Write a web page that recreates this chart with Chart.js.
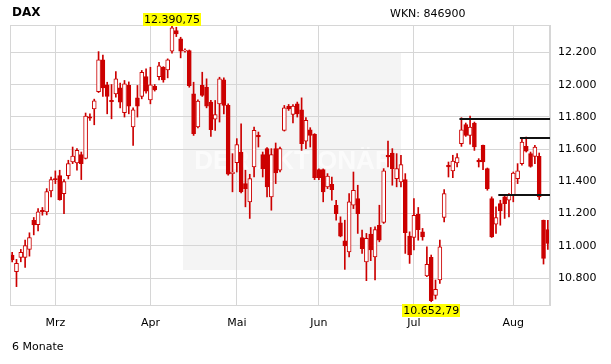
<!DOCTYPE html>
<html lang="de">
<head>
<meta charset="UTF-8">
<title>DAX - 6 Monate</title>
<script src="https://cdn.jsdelivr.net/npm/chart.js"></script>
<style>
    body { margin: 0; background: #fff; }
    #wrap { width: 611px; height: 364px; }
</style>
</head>
<body>
<div id="wrap"><canvas id="daxChart" width="611" height="364"></canvas></div>
<script>
// trading days, 16.02. - 13.08.
const dates = [
    '16.02.','17.02.','18.02.','19.02.','20.02.','23.02.','24.02.','25.02.','26.02.','27.02.',
    '02.03.','03.03.','04.03.','05.03.','06.03.','09.03.','10.03.','11.03.','12.03.','13.03.','16.03.',
    '17.03.','18.03.','19.03.','20.03.','23.03.','24.03.','25.03.','26.03.','27.03.','30.03.','31.03.',
    '01.04.','02.04.','07.04.','08.04.','09.04.','10.04.','13.04.','14.04.','15.04.','16.04.','17.04.',
    '20.04.','21.04.','22.04.','23.04.','24.04.','27.04.','28.04.','29.04.','30.04.',
    '04.05.','05.05.','06.05.','07.05.','08.05.','11.05.','12.05.','13.05.','14.05.','15.05.',
    '18.05.','19.05.','20.05.','21.05.','22.05.','26.05.','27.05.','28.05.','29.05.',
    '01.06.','02.06.','03.06.','04.06.','05.06.','08.06.','09.06.','10.06.','11.06.','12.06.','15.06.',
    '16.06.','17.06.','18.06.','19.06.','22.06.','23.06.','24.06.','25.06.','26.06.','29.06.','30.06.',
    '01.07.','02.07.','03.07.','06.07.','07.07.','08.07.','09.07.','10.07.','13.07.','14.07.','15.07.',
    '16.07.','17.07.','20.07.','21.07.','22.07.','23.07.','24.07.','27.07.','28.07.','29.07.','30.07.','31.07.',
    '03.08.','04.08.','05.08.','06.08.','07.08.','10.08.','11.08.','12.08.','13.08.'
];

const openVals = [
    10943,10839,10928,10928,10978,11159,11132,11221,11211,11341,
    11417,11436,11324,11436,11520,11514,11566,11543,11801,11850,11956,
    12154,11999,11902,11943,11980,11826,11995,11737,11918,11927,12050,
    11906,11989,12050,12108,12092,12207,12335,12284,12207,12211,11943,
    11737,11995,11984,11892,11786,11881,12030,11871,11448,
    11516,11582,11386,11273,11489,11685,11566,11603,11304,11603,
    11469,11716,11865,11815,11881,11844,11650,11720,11691,
    11473,11473,11366,11382,11252,11143,11031,10963,11252,11293,11052,
    10901,11073,10932,11128,11145,11562,11576,11417,11396,11411,11060,
    11052,11196,11087,10813,10928,10693,10788,11176,11500,11465,11514,
    11634,11753,11685,11762,11531,11623,11479,11293,11134,11262,11304,11283,
    11314,11417,11510,11617,11572,11555,11555,11159,11101
];
const highVals = [
    10959,10916,10978,11035,11081,11176,11231,11238,11355,11427,
    11465,11469,11411,11531,11613,11603,11582,11824,11819,11910,12205,
    12184,12015,12001,12081,12009,12026,12017,11856,11995,12088,12098,
    12108,12001,12139,12112,12160,12366,12356,12294,12222,12215,12015,
    11906,12077,12036,11902,11902,12046,12042,11881,11572,
    11665,11757,11469,11444,11737,11706,11582,11610,11603,11638,
    11613,11871,11877,11877,11892,11918,11795,11733,11696,
    11477,11477,11448,11427,11283,11180,11159,11324,11458,11376,11097,
    11077,11114,11118,11252,11479,11650,11603,11572,11562,11448,11087,
    11293,11238,11108,10994,10943,10788,11035,11349,11520,11562,11572,
    11795,11762,11805,11768,11541,11625,11483,11304,11242,11283,11314,11324,
    11458,11510,11665,11675,11582,11623,11576,11160,11159
];
const lowVals = [
    10901,10747,10901,10866,10936,11068,11093,11190,11192,11304,
    11386,11283,11200,11415,11510,11469,11411,11539,11778,11751,11951,
    11927,11819,11788,11922,11856,11799,11819,11623,11799,11912,11947,
    11881,11960,12030,12015,12042,12195,12298,12166,12201,11984,11685,
    11731,11927,11856,11679,11716,11768,11819,11438,11335,
    11458,11328,11242,11170,11427,11613,11427,11304,11221,11386,
    11458,11712,11840,11762,11799,11592,11603,11613,11411,
    11411,11273,11355,11283,11159,11056,10854,10932,11231,11077,10953,
    10784,10908,10788,11025,11139,11489,11376,11366,11366,10953,10891,
    10974,11035,11035,10809,10653,10670,10767,11149,11427,11423,11489,
    11617,11679,11630,11592,11489,11473,11345,11052,11077,11128,11170,11180,
    11273,11386,11500,11582,11488,11510,11287,10887,10978
];
const closeVals = [
    10912,10891,10959,11002,11052,11130,11211,11211,11337,11411,
    11411,11287,11398,11510,11557,11592,11510,11805,11792,11900,12154,
    11980,11927,11894,12036,11892,12005,11867,11844,11867,12077,11960,
    11999,11968,12116,12030,12154,12352,12314,12207,12215,11993,11696,
    11898,11933,11867,11720,11815,12036,11871,11444,11458,
    11628,11335,11355,11417,11716,11675,11479,11366,11566,11452,
    11603,11856,11850,11867,11819,11634,11778,11685,11423,
    11423,11335,11432,11349,11200,11060,11000,11273,11345,11200,10982,
    11046,10974,11101,11035,11465,11551,11479,11479,11504,11081,10943,
    11190,11101,11056,10885,10660,10730,10994,11324,11489,11526,11547,
    11720,11685,11737,11613,11520,11520,11355,11056,11176,11217,11262,11314,
    11452,11465,11644,11588,11493,11613,11304,10922,11015
];

const yTicks = [10800, 11000, 11200, 11400, 11600, 11800, 12000, 12200];
const monthNames = { '02': 'Feb', '03': 'Mrz', '04': 'Apr', '05': 'Mai', '06': 'Jun', '07': 'Jul', '08': 'Aug' };

// hand drawn support / resistance lines: start candle index and level
const lineStarts = [104, 118, 113];
const lineLevels = [11788, 11671, 11314];

const highIndex = 37, highLabel = '12.390,75';
const lowIndex = 97, lowLabel = '10.652,79';

const red = '#cc0000';
const gridGrey = '#d6d6d6';
const font = '"DejaVu Sans", Verdana, sans-serif';

function fmt(v) {
    return String(v).replace(/\B(?=(\d{3})+(?!\d))/g, '.');
}
function isMonthStart(i) {
    return i > 0 && dates[i].slice(3, 5) !== dates[i - 1].slice(3, 5);
}

const bodyData = dates.map((d, i) => [openVals[i], closeVals[i]]);
const wickData = dates.map((d, i) => [lowVals[i], highVals[i]]);
const bodyFill = dates.map((d, i) => closeVals[i] < openVals[i] ? red : '#ffffff');

const decorPlugin = {
    id: 'decor',
    beforeDraw(chart) {
        const ctx = chart.ctx;
        ctx.save();
        ctx.fillStyle = '#fff';
        ctx.fillRect(0, 0, chart.width, chart.height);
        // watermark
        ctx.fillStyle = '#f4f4f4';
        ctx.fillRect(183, 53, 218, 217);
        ctx.fillStyle = '#fbfbfb';
        ctx.font = 'bold 26px "Liberation Sans", Arial, sans-serif';
        ctx.textAlign = 'center';
        ctx.textBaseline = 'middle';
        ctx.fillText('DER AKTIONÄR', 294, 162);
        ctx.restore();
    },
    afterDatasetsDraw(chart) {
        const ctx = chart.ctx;
        const a = chart.chartArea;
        const x = chart.scales.x, y = chart.scales.y;
        ctx.save();
        // frame
        ctx.strokeStyle = gridGrey;
        ctx.lineWidth = 1;
        ctx.strokeRect(a.left + 0.5, a.top + 0.5, a.right - a.left - 1, a.bottom - a.top);
        // black lines
        ctx.strokeStyle = '#111';
        ctx.lineWidth = 2;
        lineStarts.forEach((s, i) => {
            const py = Math.round(y.getPixelForValue(lineLevels[i]));
            ctx.beginPath();
            ctx.moveTo(x.getPixelForValue(s) - 2, py);
            ctx.lineTo(a.right, py);
            ctx.stroke();
        });
        // yellow high / low labels
        ctx.font = '11px ' + font;
        ctx.textAlign = 'center';
        ctx.textBaseline = 'middle';
        [[highIndex, highLabel, 13], [lowIndex, lowLabel, 304]].forEach(([idx, txt, top]) => {
            const cx = x.getPixelForValue(idx);
            const w = ctx.measureText(txt).width + 2;
            ctx.fillStyle = '#ffff00';
            ctx.fillRect(Math.round(cx - w / 2), top, Math.round(w), 13);
            ctx.fillStyle = '#000';
            ctx.fillText(txt, cx, top + 7);
        });
        ctx.restore();
    },
    afterDraw(chart) {
        const ctx = chart.ctx;
        ctx.save();
        ctx.fillStyle = '#000';
        ctx.textBaseline = 'middle';
        ctx.textAlign = 'left';
        ctx.font = 'bold 12px ' + font;
        ctx.fillText('DAX', 12, 13);
        ctx.font = '11px ' + font;
        ctx.fillText('WKN: 846900', 390, 14);
        ctx.fillText('6 Monate', 12, 347);
        ctx.restore();
    }
};

new Chart(document.getElementById('daxChart'), {
    type: 'bar',
    data: {
        labels: dates,
        datasets: [
            {
                data: bodyData,
                backgroundColor: bodyFill,
                borderColor: red,
                borderWidth: 1,
                borderSkipped: false,
                barThickness: 4,
                grouped: false
            },
            {
                data: wickData,
                backgroundColor: red,
                borderWidth: 0,
                barThickness: 1,
                grouped: false
            }
        ]
    },
    options: {
        responsive: false,
        animation: false,
        events: [],
        layout: { padding: { left: 10, top: 25, right: 0, bottom: 0 } },
        plugins: {
            legend: { display: false },
            tooltip: { enabled: false }
        },
        scales: {
            x: {
                type: 'category',
                offset: true,
                afterFit: s => { s.height = 59; },
                grid: {
                    offset: false,
                    drawTicks: false,
                    color: c => isMonthStart(c.index) ? gridGrey : 'rgba(0,0,0,0)'
                },
                border: { color: gridGrey },
                ticks: {
                    autoSkip: false,
                    maxRotation: 0,
                    padding: 12,
                    color: '#000',
                    font: { family: font, size: 11 },
                    callback: function (v, i) {
                        return isMonthStart(i) ? monthNames[dates[i].slice(3, 5)] : '';
                    }
                }
            },
            y: {
                position: 'right',
                min: 10633,
                max: 12370,
                afterFit: s => { s.width = 61; },
                afterBuildTicks: s => { s.ticks = yTicks.map(v => ({ value: v })); },
                grid: { color: gridGrey, drawTicks: false },
                border: { color: gridGrey },
                ticks: {
                    padding: 8,
                    color: '#000',
                    font: { family: font, size: 11 },
                    callback: v => fmt(v)
                }
            }
        }
    },
    plugins: [decorPlugin]
});
</script>
</body>
</html>
